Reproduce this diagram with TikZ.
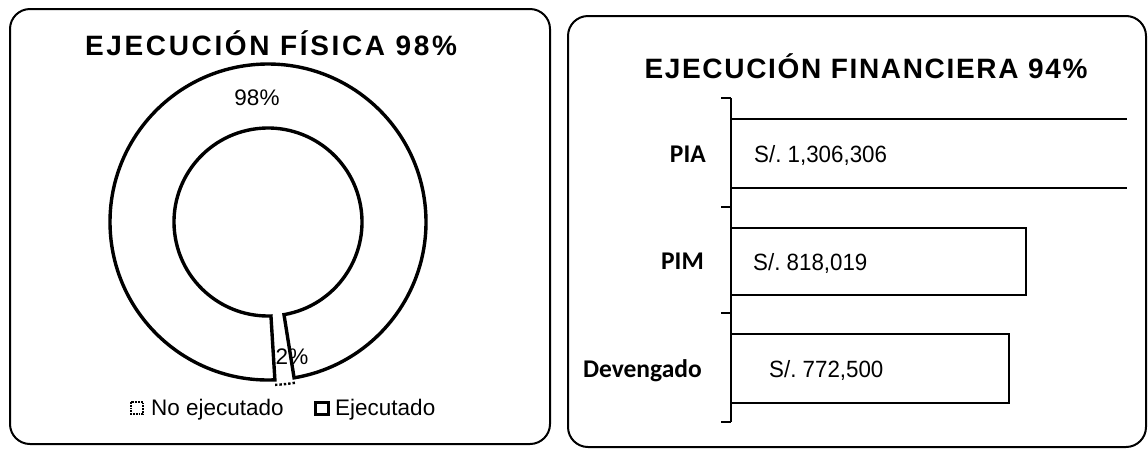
\documentclass[tikz,border=0pt]{standalone}
\usepackage{fontspec}
\setmainfont{Liberation Sans}
\newfontfamily\titlefont{Liberation Sans}[LetterSpace=9.5]
\newfontfamily\titlefontb{Liberation Sans}[LetterSpace=6]
\newfontfamily\catfont{Carlito}
\newfontfamily\valfont{Liberation Sans}[FakeStretch=0.95]
\usetikzlibrary{calc}
\tikzset{
	panel/.style={draw, line width=2pt, rounded corners=20pt},
	ring/.style={draw, line width=3.4pt, line join=miter},
	bar/.style={draw, line width=2pt},
	titletext/.style={inner sep=0pt, font=\titlefont\bfseries\fontsize{28}{30}\selectfont},
	titletextb/.style={inner sep=0pt, font=\titlefontb\bfseries\fontsize{28}{30}\selectfont},
	pcttext/.style={inner sep=0pt, font=\fontsize{22.5}{24}\selectfont},
	cattext/.style={inner sep=0pt, anchor=base east, font=\catfont\bfseries\fontsize{25.5}{27}\selectfont},
	valtext/.style={inner sep=0pt, anchor=base west, font=\valfont\fontsize{23.5}{25}\selectfont}
}

\begin{document}
\begin{tikzpicture}[x=1pt, y=-1pt]
			\useasboundingbox (0,0) rectangle (1148,448);
			
			%%%%% FISICA %%%%%
			
			\draw[panel] (10, 9) rectangle (550, 444);
			\node[titletext, anchor=base] (ttlfis) at (271, 55) {EJECUCIÓN FÍSICA 98\%};
			
			\coordinate (c) at (268, 222);
			\draw[ring] ($(c)+(87.5:158)$) arc[start angle=87.5, end angle=440.5, radius=158]
				-- ($(c)+(80.2:94)$) arc[start angle=80.2, end angle=-271.8, radius=94] -- cycle;
			\draw[line width=2.4pt, dotted] ($(c)+(80.5:163)$) arc[start angle=80.5, end angle=87.5, radius=163];
			
			\node[pcttext, anchor=base] (pctej) at (257, 105) {98\%};
			\node[pcttext, anchor=base] (pctno) at (292, 364) {2\%};
			
			\draw[line width=1.8pt, densely dotted] (131, 402) rectangle (143, 414);
			\node[pcttext, anchor=base west] (legno) at (151, 415) {No ejecutado};
			\draw[line width=3pt] (315, 402) rectangle (328, 414);
			\node[pcttext, anchor=base west] (legej) at (335, 415) {Ejecutado};
			
			%%%%% FINANCIERA %%%%%
			
			\draw[panel] (568, 16) rectangle (1146, 447);
			\node[titletextb, anchor=base] (ttlfin) at (866, 78) {EJECUCIÓN FINANCIERA 94\%};
			
			\draw[line width=2.5pt] (731, 98) -- (731, 422);
			\foreach \ty in {98, 207, 313, 422}
				\draw[line width=2pt] (721, \ty) -- (731, \ty);
			
			\draw[bar] (731, 119) -- (1127, 119);
			\draw[bar] (731, 188) -- (1127, 188);
			\draw[bar] (731, 228) rectangle (1026, 295);
			\draw[bar] (731, 334) rectangle (1009, 403);
			
			\node[cattext] (catpia) at (706, 162) {PIA};
			\node[cattext] (catpim) at (704, 269) {PIM};
			\node[cattext] (catdev) at (702, 377) {Devengado};
			
			\node[valtext] (valpia) at (754, 162) {S/.~1,306,306};
			\node[valtext] (valpim) at (753, 270) {S/.~818,019};
			\node[valtext] (valdev) at (769, 377) {S/.~772,500};
			
		\end{tikzpicture}
\end{document}
